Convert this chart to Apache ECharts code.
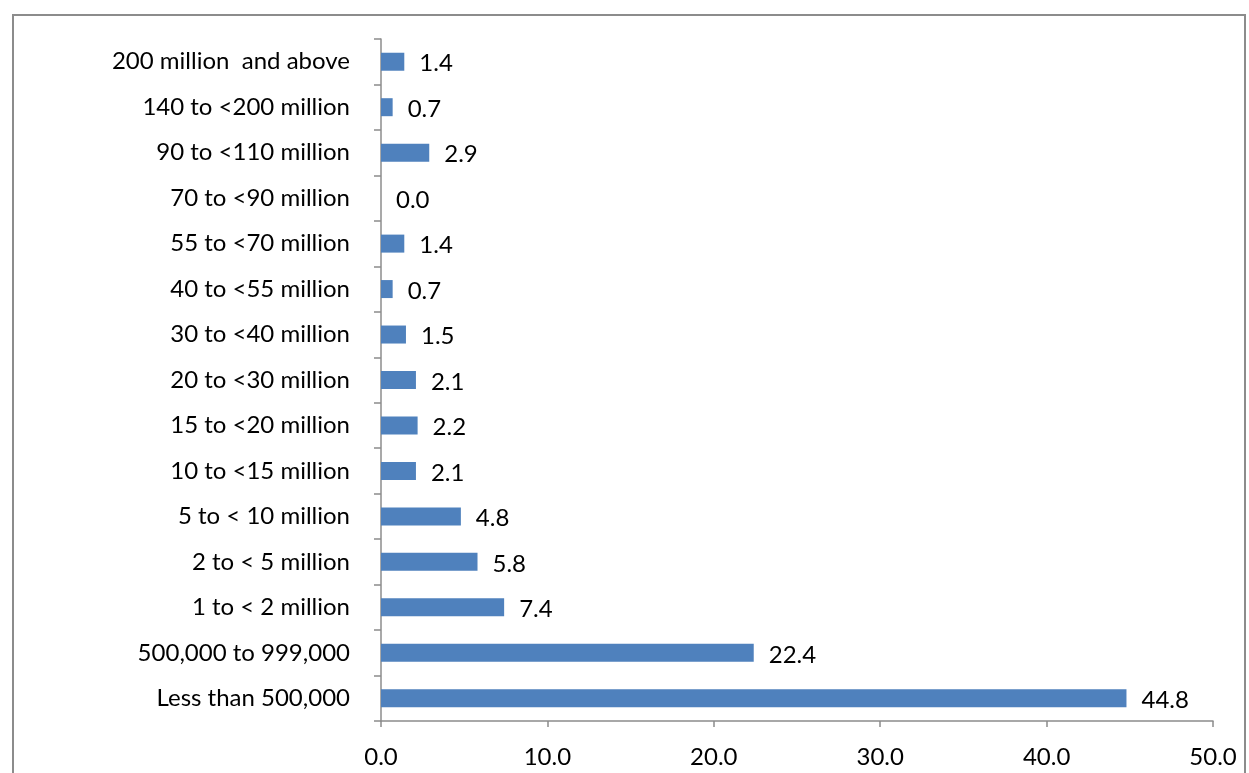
<!DOCTYPE html>
<html><head><meta charset="utf-8">
<script src="https://cdn.jsdelivr.net/npm/echarts@6/dist/echarts.min.js"></script>
<style>html,body{margin:0;padding:0;background:#fff}#c{width:1249px;height:773px}</style>
</head><body><div id="c"></div>
<script>
const categories = ["Less than 500,000","500,000 to 999,000","1 to < 2 million","2 to < 5 million","5 to < 10 million","10 to <15 million","15 to <20 million","20 to <30 million","30 to <40 million","40 to <55 million","55 to <70 million","70 to <90 million","90 to <110 million","140 to <200 million","200 million  and above"];
const values = [44.8,22.4,7.4,5.8,4.8,2.1,2.2,2.1,1.5,0.7,1.4,0.0,2.9,0.7,1.4];
const xTicks = [0,10,20,30,40,50];
const font = "Lato, 'Open Sans', sans-serif";
const chart = echarts.init(document.getElementById('c'));
chart.setOption({
  animation:false,
  graphic:[{type:'rect',shape:{x:13,y:15,width:1232,height:800},style:{fill:'none',stroke:'#8c8c8c',lineWidth:2},z:-1}],
  grid:{left:381,right:36,top:39,bottom:52},
  xAxis:{type:'value',min:xTicks[0],max:xTicks[xTicks.length-1],interval:10,
    axisLine:{show:true,lineStyle:{color:'#8c8c8c',width:1.5}},
    axisTick:{show:true,length:6,lineStyle:{color:'#8c8c8c',width:1.5}},
    splitLine:{show:false},
    axisLabel:{formatter:v=>v.toFixed(1),color:'#000',fontSize:24,fontFamily:font,margin:24}},
  yAxis:{type:'category',data:categories,
    axisLine:{show:true,lineStyle:{color:'#8c8c8c',width:1.5}},
    axisTick:{show:true,length:7,lineStyle:{color:'#8c8c8c',width:1.5}},
    axisLabel:{color:'#000',fontSize:24,fontFamily:font,margin:31,padding:[3,0,0,0]}},
  series:[{type:'bar',data:values,barWidth:18,
    itemStyle:{color:'#4f81bd'},
    label:{show:true,position:'right',distance:15,formatter:p=>p.value.toFixed(1),color:'#000',fontSize:24,fontFamily:font,offset:[0,2]}}]
});
</script></body></html>
